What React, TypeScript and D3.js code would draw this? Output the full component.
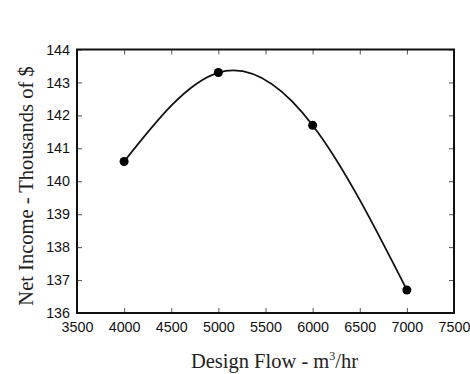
import React, { useEffect, useRef } from "react";
import * as d3 from "d3";

const designFlow = [4000, 5000, 6000, 7000];
const netIncome = [140.6, 143.3, 141.7, 136.7];
const xTicks = [3500, 4000, 4500, 5000, 5500, 6000, 6500, 7000, 7500];
const yTicks = [136, 137, 138, 139, 140, 141, 142, 143, 144];

export default function App() {
  const ref = useRef<SVGSVGElement | null>(null);

  useEffect(() => {
    const width = 470,
      height = 374;
    const margin = { top: 49.5, right: 16, bottom: 61, left: 77 };
    const svg = d3.select(ref.current);
    svg.selectAll("*").remove();

    const x = d3.scaleLinear().domain([3500, 7500]).range([margin.left, width - margin.right]);
    const y = d3.scaleLinear().domain([136, 144]).range([height - margin.bottom, margin.top]);

    svg.append("rect").attr("width", width).attr("height", height).attr("fill", "#fff");

    const tickFont = "'Liberation Sans', Arial, sans-serif";

    // bottom axis, ticks pointing inward
    const xAxis = svg
      .append("g")
      .attr("transform", `translate(0,${y(136)})`)
      .call(d3.axisBottom(x).tickValues(xTicks).tickSize(-5).tickPadding(9).tickFormat(d3.format("d")));
    xAxis.select(".domain").remove();
    xAxis.selectAll("line").attr("stroke", "#555").attr("stroke-width", 1);
    xAxis.selectAll("text").attr("font-family", tickFont).attr("font-size", 14.3).attr("fill", "#111");

    // top mirrored ticks
    const xTop = svg
      .append("g")
      .attr("transform", `translate(0,${y(144)})`)
      .call(d3.axisTop(x).tickValues(xTicks).tickSize(-5).tickFormat(() => ""));
    xTop.select(".domain").remove();
    xTop.selectAll("line").attr("stroke", "#555");

    const yAxis = svg
      .append("g")
      .attr("transform", `translate(${x(3500)},0)`)
      .call(d3.axisLeft(y).tickValues(yTicks).tickSize(-5).tickPadding(7).tickFormat(d3.format("d")));
    yAxis.select(".domain").remove();
    yAxis.selectAll("line").attr("stroke", "#555");
    yAxis.selectAll("text").attr("font-family", tickFont).attr("font-size", 14.3).attr("fill", "#111");

    const yRight = svg
      .append("g")
      .attr("transform", `translate(${x(7500)},0)`)
      .call(d3.axisRight(y).tickValues(yTicks).tickSize(-5).tickFormat(() => ""));
    yRight.select(".domain").remove();
    yRight.selectAll("line").attr("stroke", "#555");

    // frame
    svg
      .append("rect")
      .attr("x", x(3500))
      .attr("y", y(144))
      .attr("width", x(7500) - x(3500))
      .attr("height", y(136) - y(144))
      .attr("fill", "none")
      .attr("stroke", "#111")
      .attr("stroke-width", 2);

    const pts: [number, number][] = designFlow.map((d, i) => [d, netIncome[i]]);

    const line = d3
      .line<[number, number]>()
      .x((d) => x(d[0]))
      .y((d) => y(d[1]))
      .curve(d3.curveNatural);

    svg
      .append("path")
      .attr("d", line(pts))
      .attr("fill", "none")
      .attr("stroke", "#111")
      .attr("stroke-width", 1.8);

    svg
      .selectAll("circle.pt")
      .data(pts)
      .enter()
      .append("circle")
      .attr("class", "pt")
      .attr("cx", (d) => x(d[0]))
      .attr("cy", (d) => y(d[1]))
      .attr("r", 4.5)
      .attr("fill", "#000");

    const titleFont = "'Liberation Serif', 'Times New Roman', serif";

    const xTitle = svg
      .append("text")
      .attr("x", 274.5)
      .attr("y", 368)
      .attr("text-anchor", "middle")
      .attr("font-family", titleFont)
      .attr("font-size", 20.5)
      .attr("fill", "#222");
    xTitle.append("tspan").text("Design Flow - m");
    xTitle.append("tspan").attr("dy", -8).attr("font-size", 12).text("3");
    xTitle.append("tspan").attr("dy", 8).text("/hr");

    svg
      .append("text")
      .attr("transform", `translate(32.5,186) rotate(-90)`)
      .attr("text-anchor", "middle")
      .attr("font-family", titleFont)
      .attr("font-size", 20.5)
      .attr("fill", "#222")
      .text("Net Income - Thousands of $");
  }, []);

  return (
    <svg
      ref={ref}
      width={470}
      height={374}
      style={{ position: "absolute", left: 0, top: 0 }}
    />
  );
}
